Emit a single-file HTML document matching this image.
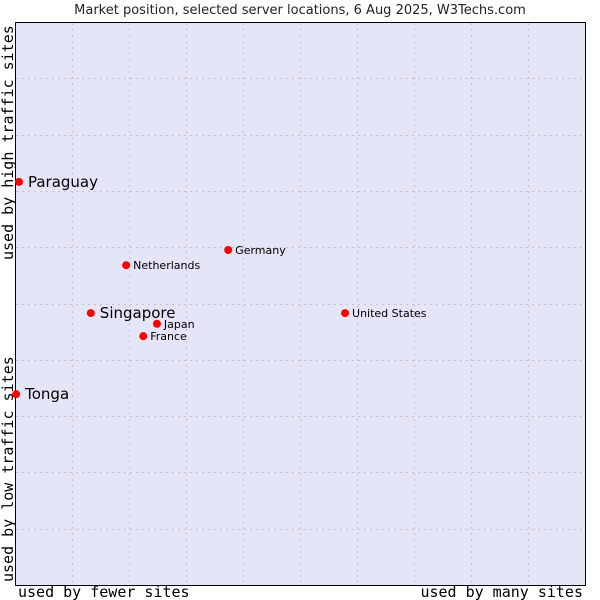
<!DOCTYPE html>
<html><head><meta charset="utf-8"><style>
body{margin:0;background:#fff;width:600px;height:600px;overflow:hidden}
svg{display:block}
</style></head><body>
<svg id="chart" width="600" height="600" xmlns="http://www.w3.org/2000/svg">
<text x="300" y="14" text-anchor="middle" font-family="DejaVu Sans, sans-serif" font-size="13" fill="#222">Market position, selected server locations, 6 Aug 2025, W3Techs.com</text>
<rect x="15.5" y="22.5" width="570" height="563" fill="#e4e5f7" stroke="#000" stroke-width="1"/>
<g id="grid"></g>
<text x="18" y="597" font-family="DejaVu Sans Mono, monospace" font-size="15" fill="#000">used by fewer sites</text>
<text x="583" y="597" text-anchor="end" font-family="DejaVu Sans Mono, monospace" font-size="15" fill="#000">used by many sites</text>
<text transform="translate(13,582) rotate(-90)" font-family="DejaVu Sans Mono, monospace" font-size="15" fill="#000">used by low traffic sites</text>
<text transform="translate(13,260) rotate(-90)" font-family="DejaVu Sans Mono, monospace" font-size="15" fill="#000">used by high traffic sites</text>
<g id="points"></g>
</svg>
<script>
const names = ["Paraguay","Tonga","Singapore","Netherlands","Germany","United States","Japan","France"];
const xValues = [0.7,0.2,13.3,19.5,37.4,57.9,24.9,22.5];
const yValues = [71.6,33.9,48.3,56.8,59.5,48.3,46.4,44.2];
const highlighted = [true,true,true,false,false,false,false,false];
const NS="http://www.w3.org/2000/svg";
const L=15,R=585,T=22,B=585;
const sx=v=>L+v/100*(R-L);
const sy=v=>B-v/100*(B-T);
const grid=document.getElementById('grid');
for(let i=1;i<10;i++){
  const gx=Math.round(L+(R-L)*i/10)+0.5;
  const v=document.createElementNS(NS,'line');
  v.setAttribute('x1',gx);v.setAttribute('x2',gx);v.setAttribute('y1',T+1);v.setAttribute('y2',B);
  v.setAttribute('stroke','#c4c4c8');v.setAttribute('stroke-dasharray','2,4');
  
  
  grid.appendChild(v);
  const gy=Math.round(T+(B-T)*i/10)+0.5;
  const h=document.createElementNS(NS,'line');
  h.setAttribute('x1',L+1);h.setAttribute('x2',R);h.setAttribute('y1',gy);h.setAttribute('y2',gy);
  h.setAttribute('stroke','#c4c4c8');h.setAttribute('stroke-dasharray','2,4');
  
  
  grid.appendChild(h);
}
const pts=document.getElementById('points');
names.forEach((n,i)=>{
  const x=sx(xValues[i]),y=sy(yValues[i]);
  const c=document.createElementNS(NS,'circle');
  c.setAttribute('cx',x);c.setAttribute('cy',y);c.setAttribute('r',4);c.setAttribute('fill','#f00');
  
  
  pts.appendChild(c);
  const t=document.createElementNS(NS,'text');
  const big=highlighted[i];
  t.setAttribute('x',x+(big?9:7));t.setAttribute('y',y+(big?5:4));
  t.setAttribute('font-family','DejaVu Sans, sans-serif');
  t.setAttribute('font-size',big?15:11);t.setAttribute('fill','#000');
  t.textContent=n;
  
  
  pts.appendChild(t);
});
</script>
</body></html>
